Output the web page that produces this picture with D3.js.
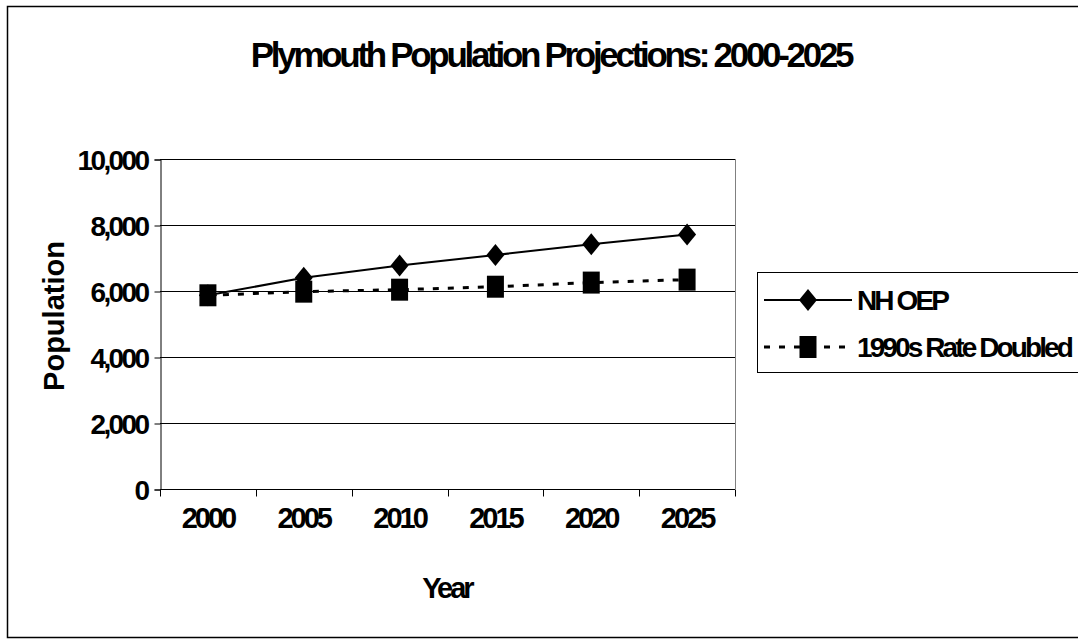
<!DOCTYPE html>
<html>
<head>
<meta charset="utf-8">
<script src="https://cdn.jsdelivr.net/npm/d3@7"></script>
<style>
  body { margin: 0; background: #fff; }
  svg text { font-family: "Liberation Sans", Arial, sans-serif; font-weight: bold; fill: #000; }
</style>
</head>
<body>
<div id="chart"></div>
<script>
const w = 1078, h = 643;

// chart data
const years = ["2000", "2005", "2010", "2015", "2020", "2025"];
const nhOep = [5870, 6400, 6775, 7090, 7420, 7710];
const rateDoubled = [5870, 5980, 6040, 6130, 6255, 6345];
const yTicks = [0, 2000, 4000, 6000, 8000, 10000];
const seriesNames = ["NH OEP", "1990s Rate Doubled"];

const titleText = "Plymouth Population Projections: 2000-2025";
const xTitle = "Year";
const yTitle = "Population";

const plot = {left: 160, right: 735, top: 159, bottom: 489};

const svg = d3.select("#chart")
    .append("svg")
    .attr("width", w)
    .attr("height", h);

// outer chart border
svg.append("rect")
    .attr("x", 7.5).attr("y", 6.5)
    .attr("width", w + 20).attr("height", 631)
    .attr("fill", "#fff")
    .attr("stroke", "#000")
    .attr("stroke-width", 1.5);

svg.append("text")
    .attr("x", 551).attr("y", 67)
    .attr("text-anchor", "middle")
    .attr("font-size", 35)
    .attr("letter-spacing", -3.3)
    .text(titleText);

const xScale = d3.scaleBand()
    .domain(years)
    .range([plot.left, plot.right]);

const yScale = d3.scaleLinear()
    .domain([0, 10000])
    .range([plot.bottom, plot.top]);

// gridlines
svg.append("g")
    .selectAll("line")
    .data(yTicks.slice(1))
    .join("line")
    .attr("x1", plot.left).attr("x2", plot.right)
    .attr("y1", d => Math.round(yScale(d)) + 0.5)
    .attr("y2", d => Math.round(yScale(d)) + 0.5)
    .attr("stroke", "#000")
    .attr("stroke-width", 1);

// plot border right side
svg.append("line")
    .attr("x1", plot.right + 0.5).attr("x2", plot.right + 0.5)
    .attr("y1", plot.top).attr("y2", plot.bottom)
    .attr("stroke", "#808080");

const yAxis = d3.axisLeft(yScale)
    .tickValues(yTicks)
    .tickSize(6)
    .tickPadding(7)
    .tickFormat(d3.format(","));

const yAxisG = svg.append("g")
    .attr("transform", "translate(" + (plot.left + 0.5) + ",0.5)")
    .call(yAxis);
yAxisG.selectAll("text")
    .attr("font-size", 28)
    .attr("letter-spacing", -2.6)
    .attr("dy", "0.36em");
yAxisG.select(".domain").attr("stroke", "#000");

// x axis: ticks fall between categories
const xAxisG = svg.append("g")
    .attr("transform", "translate(0," + (plot.bottom + 0.5) + ")");
xAxisG.append("line")
    .attr("x1", plot.left).attr("x2", plot.right)
    .attr("stroke", "#000");
xAxisG.selectAll(".xtick")
    .data(years.concat(["end"]))
    .join("line")
    .attr("class", "xtick")
    .attr("x1", (d, i) => Math.round(plot.left + i * xScale.step()) + 0.5)
    .attr("x2", (d, i) => Math.round(plot.left + i * xScale.step()) + 0.5)
    .attr("y1", 0).attr("y2", 7)
    .attr("stroke", "#000");
xAxisG.selectAll(".xlabel")
    .data(years)
    .join("text")
    .attr("class", "xlabel")
    .attr("x", d => xScale(d) + xScale.bandwidth() / 2)
    .attr("y", 38)
    .attr("text-anchor", "middle")
    .attr("font-size", 29)
    .attr("letter-spacing", -3)
    .text(d => d);

svg.append("text")
    .attr("x", 447).attr("y", 598)
    .attr("text-anchor", "middle")
    .attr("font-size", 29)
    .attr("letter-spacing", -3)
    .text(xTitle);

svg.append("text")
    .attr("transform", "translate(64,316) rotate(-90)")
    .attr("text-anchor", "middle")
    .attr("font-size", 29)
    .text(yTitle);

const cx = d => xScale(d) + xScale.bandwidth() / 2;

const line1 = d3.line()
    .x((d, i) => cx(years[i]))
    .y(d => yScale(d));

svg.append("path")
    .datum(rateDoubled)
    .attr("fill", "none")
    .attr("stroke", "#000")
    .attr("stroke-width", 3)
    .attr("stroke-dasharray", "6,9")
    .attr("d", line1);

svg.append("path")
    .datum(nhOep)
    .attr("fill", "none")
    .attr("stroke", "#000")
    .attr("stroke-width", 2)
    .attr("d", line1);

const diamond = "M0,-11L9,0L0,11L-9,0Z";
const square = "M-8.5,-11H8.5V11H-8.5Z";

svg.append("g")
    .selectAll("path")
    .data(nhOep)
    .join("path")
    .attr("transform", (d, i) => "translate(" + cx(years[i]) + "," + yScale(d) + ")")
    .attr("d", diamond)
    .attr("fill", "#000");

svg.append("g")
    .selectAll("path")
    .data(rateDoubled)
    .join("path")
    .attr("transform", (d, i) => "translate(" + cx(years[i]) + "," + yScale(d) + ")")
    .attr("d", square)
    .attr("fill", "#000");

// legend
const legend = svg.append("g").attr("transform", "translate(757,272)");
legend.append("rect")
    .attr("x", 0.5).attr("y", 0.5)
    .attr("width", 340).attr("height", 100)
    .attr("fill", "#fff")
    .attr("stroke", "#000");

const legRows = legend.selectAll(".row")
    .data(seriesNames)
    .join("g")
    .attr("class", "row")
    .attr("transform", (d, i) => "translate(0," + (28 + i * 47) + ")");

legRows.append("line")
    .attr("x1", 7).attr("x2", 95)
    .attr("stroke", "#000")
    .attr("stroke-width", (d, i) => i === 0 ? 2 : 3)
    .attr("stroke-dasharray", (d, i) => i === 0 ? null : "6,9");

legRows.append("path")
    .attr("transform", "translate(51,0)")
    .attr("d", (d, i) => i === 0 ? diamond : square)
    .attr("fill", "#000");

legRows.append("text")
    .attr("x", 100).attr("y", 10)
    .attr("font-size", 28)
    .attr("letter-spacing", -2.9)
    .text(d => d);
</script>
</body>
</html>
